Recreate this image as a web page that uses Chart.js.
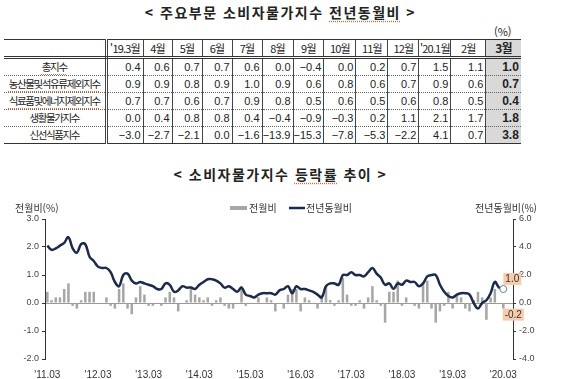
<!DOCTYPE html>
<html lang="ko">
<head>
<meta charset="utf-8">
<script src="https://cdn.jsdelivr.net/npm/chart.js@4.4.1/dist/chart.umd.min.js"></script>
<style>
  body { margin:0; width:561px; height:379px; overflow:hidden; background:#fff; position:relative;
         font-family:"Noto Sans CJK KR", sans-serif; color:#222; }
  .title { position:absolute; left:0; width:561px; text-align:center; font-size:14px; font-weight:700;
           letter-spacing:1.5px; line-height:18px; }
  .sp { text-decoration: underline dotted #e0663c; text-underline-offset:3px; }
  #unit { position:absolute; left:494px; top:23px; font-size:11px; }
  #tbl { position:absolute; left:4px; top:39px; border-collapse:collapse; table-layout:fixed; font-size:11px; }
  #tbl td { height:16px; padding:0 2px 0 0; line-height:16px; border-left:1px solid #444;
            border-bottom:1px dotted #666; text-align:right; font-family:"Liberation Sans", sans-serif; white-space:nowrap; }
  #tbl tr:first-child td { border-top:1px solid #333; border-bottom:3px double #333; text-align:center;
            font-family:"Noto Sans CJK KR", sans-serif; letter-spacing:-0.8px; padding:0; }
  #tbl tr:last-child td { border-bottom:1px solid #333; }
  #tbl td.lab { border-left:none; border-right:3px double #444; text-align:center; font-family:"Noto Sans CJK KR", sans-serif;
                letter-spacing:-1.4px; font-size:10.5px; padding:0; }
  #tbl td.cur { background:#d9d9d9; font-weight:700; font-size:12px; }
  #cpi { position:absolute; left:0; top:190px; }
</style>
</head>
<body>
<div class="title" style="top:3px">&lt; 주요부문 소비자물가지수 <span class="sp">전년동월비</span> &gt;</div>
<div id="unit">(%)</div>
<table id="tbl"></table>
<div class="title" style="top:165px">&lt; 소비자물가지수 <span class="sp">등락률</span> 추이 &gt;</div>
<canvas id="cpi" width="561" height="189"></canvas>
<script>
// ---- table data ----
const tableCols = ["'19.3월", '4월', '5월', '6월', '7월', '8월', '9월', '10월', '11월', '12월', "'20.1월", '2월', '3월'];
const rowNames = ['총지수', '농산물및석유류제외지수', '식료품및에너지제외지수', '생활물가지수', '신선식품지수'];
const underlined = [true, true, true, false, false];
const total      = [0.4, 0.6, 0.7, 0.7, 0.6, 0.0, -0.4, 0.0, 0.2, 0.7, 1.5, 1.1, 1.0];
const exAgriOil  = [0.9, 0.9, 0.8, 0.9, 1.0, 0.9, 0.6, 0.8, 0.6, 0.7, 0.9, 0.6, 0.7];
const exFoodEnrg = [0.7, 0.7, 0.6, 0.7, 0.9, 0.8, 0.5, 0.6, 0.5, 0.6, 0.8, 0.5, 0.4];
const living     = [0.0, 0.4, 0.8, 0.8, 0.4, -0.4, -0.9, -0.3, 0.2, 1.1, 2.1, 1.7, 1.8];
const freshFood  = [-3.0, -2.7, -2.1, 0.0, -1.6, -13.9, -15.3, -7.8, -5.3, -2.2, 4.1, 0.7, 3.8];
const tableRows = [total, exAgriOil, exFoodEnrg, living, freshFood];

const colW = [102, 37, 29, 30, 30, 30, 31, 30, 32, 32, 31, 32, 35, 35];

function fmt(v) {
  return (v < 0 ? '\u2212' : '') + Math.abs(v).toFixed(1);
}

const tbl = document.getElementById('tbl');
let html = '<colgroup>' + colW.map(w => '<col style="width:' + w + 'px">').join('') + '</colgroup>';
html += '<tr><td class="lab"></td>' + tableCols.map((c, i) =>
  '<td' + (i === tableCols.length - 1 ? ' class="cur"' : '') + '>' + c + '</td>').join('') + '</tr>';
tableRows.forEach((row, r) => {
  const name = underlined[r] ? '<span class="sp">' + rowNames[r] + '</span>' : rowNames[r];
  html += '<tr><td class="lab">' + name + '</td>' + row.map((v, i) =>
    '<td' + (i === row.length - 1 ? ' class="cur"' : '') + '>' + fmt(v) + '</td>').join('') + '</tr>';
});
tbl.innerHTML = html;

// ---- chart data: 2011.03 ~ 2020.03 ----
const firstYear = 2011, firstMonth = 3, lastYear = 2020, lastMonth = 3;
const months = [];
for (let y = firstYear; y <= lastYear; y++) {
  for (let m = 1; m <= 12; m++) {
    if (y === firstYear && m < firstMonth) continue;
    if (y === lastYear && m > lastMonth) break;
    months.push("'" + String(y).slice(2) + '.' + String(m).padStart(2, '0'));
  }
}

// 전월비 (%)
const mom = [
  0.4, 0.1, 0.2, 0.2, 0.5, 0.7, -0.1, -0.2, 0.1, 0.4,
  0.4, 0.4, 0.0, 0.0, 0.2, -0.1, -0.2, 0.5, 0.7, -0.2, -0.4, 0.2,
  0.6, 0.3, -0.1, -0.1, 0.0, -0.1, 0.2, 0.4, 0.2, -0.3, 0.0, 0.1,
  0.5, 0.3, 0.2, 0.1, 0.2, -0.1, 0.1, 0.2, -0.1, -0.2, -0.2, 0.0,
  0.6, -0.1, 0.0, 0.0, 0.2, 0.0, 0.2, 0.1, -0.3, 0.0, -0.2, 0.3,
  0.5, 0.5, -0.3, 0.2, 0.1, 0.0, -0.2, 0.3, 0.6, 0.1, -0.1, 0.1,
  0.9, 0.3, -0.1, -0.1, 0.1, -0.2, 0.2, 0.6, 0.1, -0.1, -0.7, 0.4,
  0.4, 0.8, -0.1, 0.2, 0.0, -0.1, -0.2, 0.7, 0.8, -0.2, -0.7, -0.3,
  -0.1, 0.4, -0.2, 0.3, 0.2, -0.2, -0.3, 0.1, 0.4, 0.2, -0.6, 0.2,
  0.5, 0.0, -0.2
];
// 전년동월비 (%)
const yoy = [
  4.1, 3.8, 3.9, 4.1, 4.3, 4.7, 3.9, 3.6, 4.2, 4.2,
  3.3, 3.0, 2.6, 2.5, 2.5, 2.2, 1.5, 1.2, 2.0, 2.1, 1.6, 1.4,
  1.5, 1.4, 1.3, 1.2, 1.0, 1.0, 1.4, 1.3, 0.8, 0.9, 1.2, 1.1,
  1.1, 1.0, 1.3, 1.5, 1.7, 1.7, 1.6, 1.4, 1.1, 1.2, 1.0, 0.8,
  1.1, 0.6, 0.5, 0.4, 0.6, 0.7, 0.7, 0.7, 0.6, 0.9, 1.0, 1.2,
  0.7, 1.2, 1.0, 1.0, 0.9, 0.8, 0.6, 0.4, 1.2, 1.4, 1.4, 1.3,
  2.0, 2.0, 2.2, 2.0, 2.0, 1.9, 2.2, 2.5, 2.1, 1.8, 1.3, 1.4,
  1.0, 1.4, 1.3, 1.6, 1.5, 1.5, 1.2, 1.4, 1.9, 2.0, 2.0, 1.3,
  0.8, 0.5, 0.4, 0.6, 0.7, 0.7, 0.6, 0.0, -0.4, 0.0, 0.2, 0.7,
  1.5, 1.1, 1.0
];

const leftTicks = [-2, -1, 0, 1, 2, 3];
const rightTicks = [-4, -2, 0, 2, 4, 6];
const leftTitle = '전월비(%)';
const rightTitle = '전년동월비(%)';

const barColor = '#a6a6a6';
const lineColor = '#1c2b4a';
const tagColor = '#f8cbad';

function drawTag(ctx, text, cx, cy) {
  ctx.font = '10px "Liberation Sans", sans-serif';
  const w = ctx.measureText(text).width + 4;
  ctx.fillStyle = tagColor;
  ctx.fillRect(cx - w / 2, cy - 6, w, 12);
  ctx.fillStyle = '#333';
  ctx.textAlign = 'center';
  ctx.textBaseline = 'middle';
  ctx.fillText(text, cx, cy + 0.5);
}

const overlay = {
  id: 'overlay',
  afterDraw(chart) {
    const ctx = chart.ctx;
    ctx.save();
    ctx.font = '10px "Noto Sans CJK KR", sans-serif';
    ctx.fillStyle = '#333';
    ctx.textBaseline = 'middle';
    ctx.textAlign = 'left';
    ctx.fillText(leftTitle, 15, 18);
    ctx.textAlign = 'right';
    ctx.fillText(rightTitle, 537, 18);

    // legend
    ctx.textAlign = 'left';
    ctx.fillStyle = barColor;
    ctx.fillRect(230, 16, 17, 4);
    ctx.fillStyle = '#333';
    ctx.fillText(chart.data.datasets[1].label, 249, 18);
    ctx.strokeStyle = lineColor;
    ctx.lineWidth = 2.5;
    ctx.beginPath();
    ctx.moveTo(289, 18);
    ctx.lineTo(305, 18);
    ctx.stroke();
    ctx.fillText(chart.data.datasets[0].label, 306, 18);

    // value tags on the latest month
    const last = months.length - 1;
    const lp = chart.getDatasetMeta(0).data[last];
    const bp = chart.getDatasetMeta(1).data[last];
    drawTag(ctx, yoy[last].toFixed(1), lp.x + 9, lp.y - 10);
    drawTag(ctx, mom[last].toFixed(1), bp.x + 10, bp.y + 6);
    ctx.restore();
  }
};

const yoyPoints = yoy.map((v, i) => ({ x: i, y: v }));
const momPoints = mom.map((v, i) => ({ x: i, y: v }));
const marchIdx = months.map((m, i) => i).filter(i => months[i].endsWith('.03'));

new Chart(document.getElementById('cpi'), {
  type: 'bar',
  data: {
    datasets: [
      {
        type: 'line',
        label: '전년동월비',
        data: yoyPoints,
        yAxisID: 'y1',
        borderColor: lineColor,
        borderWidth: 2.5,
        tension: 0.4,
        pointRadius: ctx => ctx.dataIndex === yoy.length - 1 ? 3.5 : 0,
        pointBackgroundColor: '#fff',
        pointBorderColor: '#6c7f99',
        pointBorderWidth: 1,
        order: 0
      },
      {
        type: 'bar',
        label: '전월비',
        data: momPoints,
        yAxisID: 'y',
        backgroundColor: barColor,
        barPercentage: 0.6,
        categoryPercentage: 1,
        order: 1
      }
    ]
  },
  options: {
    responsive: false,
    animation: false,
    layout: { padding: { top: 29, left: 0, right: 0, bottom: 0 } },
    plugins: { legend: { display: false }, tooltip: { enabled: false } },
    scales: {
      x: {
        type: 'linear',
        min: -0.55,
        max: 110.3,
        offset: false,
        grid: { display: false },
        border: { display: false },
        afterFit: s => { s.height = 20; },
        afterBuildTicks: s => { s.ticks = marchIdx.map(v => ({ value: v })); },
        ticks: {
          maxRotation: 0,
          padding: 2,
          color: '#333',
          font: { family: '"Liberation Sans", sans-serif', size: 10 },
          callback: v => months[v]
        }
      },
      y: {
        position: 'left',
        min: leftTicks[0],
        max: leftTicks[leftTicks.length - 1],
        afterBuildTicks: s => { s.ticks = leftTicks.map(v => ({ value: v })); },
        afterFit: s => { s.width = 45; },
        border: { display: true, color: '#333', width: 1 },
        grid: {
          drawOnChartArea: true,
          color: c => c.tick && c.tick.value === 0 ? '#9a9a9a' : 'rgba(0,0,0,0)',
          tickColor: '#333',
          tickLength: 3
        },
        ticks: {
          padding: 3,
          color: '#444',
          font: { family: '"Liberation Sans", sans-serif', size: 9 },
          callback: v => v.toFixed(1)
        }
      },
      y1: {
        position: 'right',
        min: rightTicks[0],
        max: rightTicks[rightTicks.length - 1],
        afterBuildTicks: s => { s.ticks = rightTicks.map(v => ({ value: v })); },
        afterFit: s => { s.width = 48; },
        border: { display: true, color: '#333', width: 1 },
        grid: { drawOnChartArea: false, tickColor: '#333', tickLength: 3 },
        ticks: {
          padding: 3,
          color: '#444',
          font: { family: '"Liberation Sans", sans-serif', size: 9 },
          callback: v => v.toFixed(1)
        }
      }
    }
  },
  plugins: [overlay]
});
</script>
</body>
</html>
